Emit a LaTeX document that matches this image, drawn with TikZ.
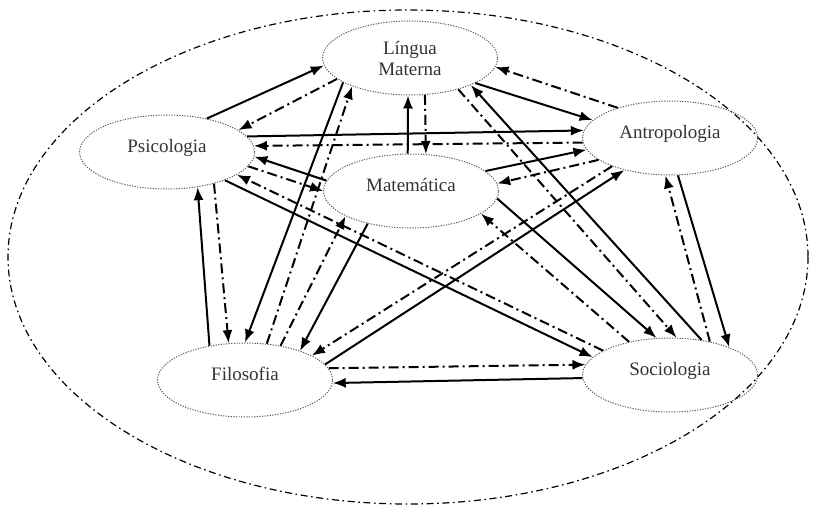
\documentclass[tikz,border=0pt]{standalone}
\usepackage{fontspec}
\setmainfont{Liberation Serif}
\usetikzlibrary{shapes.geometric}
\usetikzlibrary{arrows.meta}

\begin{document}
\begin{tikzpicture}[x=0.5pt, y=-0.5pt, ->, >={Latex[length=6.5pt,width=5pt]}, line width=1pt]
        \tikzstyle{area}=[ellipse, draw=black!65, line width=0.5pt, dash pattern=on 0.6pt off 0.7pt, minimum width=87.5pt, minimum height=37pt, inner sep=1pt, text=black!80, font=\fontsize{9.5}{10.5}\selectfont, align=center]
        \tikzstyle{one}=[area, text height=7pt, text depth=7pt]
        \tikzstyle{dd}=[dash pattern=on 5pt off 2pt on 1pt off 2pt]

        \useasboundingbox (0,0) rectangle (813,508);
        \draw[-, line width=0.6pt, dash pattern=on 3.5pt off 1.8pt on 0.8pt off 1.8pt] (408,257) ellipse [x radius=400, y radius=247];

        \node[area] (L) at (410,58) {Língua\\Materna};
        \node[one] (P) at (167,152) {Psicologia};
        \node[one] (A) at (670,138) {Antropologia};
        \node[one] (M) at (411,191) {Matemática};
        \node[one] (F) at (245,380) {Filosofia};
        \node[one] (S) at (670,375) {Sociologia};

        \path (P.40) edge (L.185)
              (L.196) edge[dd] (P.17)
              (L.200) edge (F.90)
              (F.59) edge[dd] (L.206)
              (M.95) edge (L.267)
              (L.292) edge[dd] (M.68)
              (L.339) edge (A.167)
              (A.150) edge[dd] (L.354)
              (L.327) edge[dd] (S.80)
              (S.48) edge (L.336)
              (P.11) edge (A.175)
              (A.183) edge[dd] (P.4)
              (M.173) edge (P.357)
              (P.350) edge[dd] (M.180)
              (P.326) edge[dd] (F.114)
              (F.136) edge (P.311)
              (P.334) edge (S.167)
              (S.160) edge[dd] (P.342)
              (M.15) edge (A.188)
              (A.197) edge[dd] (M.5)
              (A.282) edge (S.25)
              (S.40) edge[dd] (A.263)
              (F.11) edge (A.215)
              (A.206) edge[dd] (F.20)
              (M.217) edge (F.28)
              (F.44) edge[dd] (M.201)
              (M.355) edge (S.110)
              (S.141) edge[dd] (M.342)
              (F.8) edge[dd] (S.173)
              (S.182) edge (F.358);
\end{tikzpicture}
\end{document}
